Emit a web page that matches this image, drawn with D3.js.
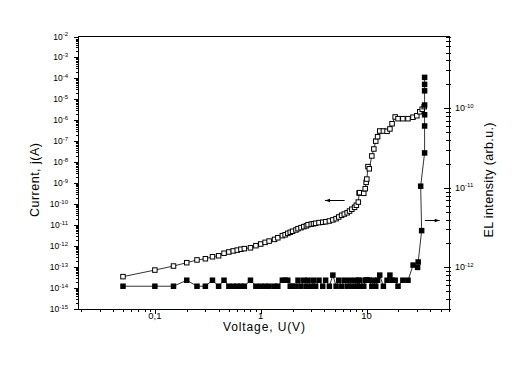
<!DOCTYPE html>
<html><head><meta charset="utf-8">
<script src="https://cdn.jsdelivr.net/npm/d3@7/dist/d3.min.js"></script>
<style>body{margin:0;background:#fff}svg{display:block}text{font-family:"Liberation Sans",Arial,sans-serif;fill:#000}</style>
</head><body><svg id="c" width="525" height="381"></svg>
<script>
// ---- data ----
const openV = [0.05,0.1,0.15,0.2,0.25,0.3,0.35,0.4,0.45,0.5,0.55,0.6,0.65,0.7,0.8,0.9,
  1.0,1.1,1.2,1.35,1.45,1.6,1.7,1.8,1.9,2.0,2.15,2.25,2.4,2.55,2.7,2.8,3.0,3.15,3.3,3.55,3.85,
  4.1,4.45,4.8,5.15,5.45,5.8,6.15,6.55,6.9,7.25,7.7,8.0,8.35,8.5,8.6,9.4,9.7,9.9,10.05,10.3,10.6,
  11.2,11.7,12.2,12.7,13.3,14.4,15.6,16.6,17.4,18.6,19.8,22,24.6,27.4,29.8,31.8,33.5,35];
const openI = [3.5e-14,7.2e-14,1.12e-13,1.62e-13,2.19e-13,2.5e-13,3.1e-13,3.47e-13,4.57e-13,5.25e-13,5.9e-13,6.45e-13,7.1e-13,7.6e-13,8.3e-13,1.05e-12,
  1.26e-12,1.51e-12,1.74e-12,2.09e-12,2.5e-12,3.16e-12,3.47e-12,4.07e-12,4.57e-12,5.13e-12,5.9e-12,6.8e-12,7.6e-12,8.5e-12,9.3e-12,1.05e-11,1.12e-11,1.17e-11,1.23e-11,1.32e-11,1.38e-11,
  1.45e-11,1.58e-11,1.78e-11,2.04e-11,2.45e-11,2.95e-11,3.39e-11,3.9e-11,4.7e-11,5.75e-11,7.1e-11,8.9e-11,1.26e-10,3.4e-10,3.55e-10,3.3e-10,5.5e-10,1.1e-9,1.58e-9,6.2e-9,4.9e-9,
  2.0e-8,4.3e-8,1.02e-7,1.66e-7,3.1e-7,3.1e-7,3.0e-7,3.9e-7,6.9e-7,1.45e-6,1.2e-6,1.2e-6,1.2e-6,1.41e-6,1.66e-6,2.57e-6,3.4e-6,4.5e-6];

const elV = [0.05,0.1,0.15,0.2,0.25,0.3,0.35,0.4,0.45,0.5,0.55,0.6,0.65,0.7,0.8,0.9,
  1.0,1.1,1.2,1.35,1.45,1.6,1.7,1.8,1.9,2.0,2.15,2.25,2.4,2.55,2.7,2.8,3.0,3.15,3.3,3.55,3.85,
  4.1,4.45,4.8,5.15,5.45,5.8,6.15,6.55,6.9,7.25,7.7,8.0,8.35,8.5,8.6,9.4,9.7,9.9,10.05,10.3,10.6,
  11.2,11.7,12.2,12.7,13.3,14.4,15.6,16.6,17.4,18.6,19.8,22,24.6,27.5,
  30.3,30.7,33.1,32.4,35.3,35.3,35.3,35.3,35.3,35.3,35.3];
const elI = [5.8e-13,5.8e-13,5.8e-13,6.9e-13,5.8e-13,5.8e-13,6.9e-13,5.8e-13,6.9e-13,5.8e-13,5.8e-13,5.8e-13,5.8e-13,5.8e-13,6.9e-13,5.8e-13,
  5.8e-13,5.8e-13,5.8e-13,5.8e-13,5.8e-13,6.9e-13,6.9e-13,6.9e-13,5.8e-13,5.8e-13,5.8e-13,6.9e-13,5.8e-13,6.9e-13,5.8e-13,6.9e-13,5.8e-13,6.9e-13,5.8e-13,6.9e-13,5.8e-13,
  6.9e-13,5.8e-13,8.0e-13,5.8e-13,6.9e-13,5.8e-13,6.9e-13,5.8e-13,6.9e-13,5.8e-13,6.9e-13,5.8e-13,6.9e-13,5.8e-13,6.9e-13,5.8e-13,6.9e-13,6.9e-13,6.9e-13,6.9e-13,6.9e-13,
  5.8e-13,6.9e-13,5.8e-13,6.9e-13,8.0e-13,5.8e-13,6.9e-13,8.0e-13,6.9e-13,6.9e-13,5.8e-13,6.9e-13,6.9e-13,1.07e-12,
  1.0e-12,1.17e-12,2.9e-12,1.05e-11,2.75e-11,6.0e-11,8.3e-11,1.1e-10,1.66e-10,2.0e-10,2.45e-10];

const xMajor = [0.1, 1, 10];
const xMajorLabels = ["0,1", "1", "10"];
const leftExp = [-15,-14,-13,-12,-11,-10,-9,-8,-7,-6,-5,-4,-3,-2];
const rightExp = [-12,-11,-10];
const xTitle = "Voltage, U(V)";
const yLeftTitle = "Current, j(A)";
const yRightTitle = "EL intensity (arb.u.)";
// arrows: [fromV, toV, value]
const leftArrow = [6.2, 4.05, 1.58e-10];
const rightArrow = [35.5, 49, 3.9e-12];

// ---- chart ----
const svg = d3.select("#c");
const L = 78.5, R = 449, T = 36.5, B = 309;
const x = d3.scaleLog().domain([0.019, 60]).range([L, R]);
const yL = d3.scaleLog().domain([1e-15, 1e-2]).range([B, T]);
const yR = d3.scaleLog().domain([3e-13, 8e-10]).range([B, T]);

function minors(scale) {
  const [a, b] = scale.domain(); const out = [];
  for (let e = Math.floor(Math.log10(a)); e <= Math.ceil(Math.log10(b)); e++)
    for (let m = 2; m <= 9; m++) { const v = m * Math.pow(10, e); if (v >= a * 0.999 && v <= b * 1.001) out.push(v); }
  return out;
}
function styleAxis(g) { g.select(".domain").remove(); g.selectAll("line").attr("stroke", "#000").attr("shape-rendering", "crispEdges"); g.selectAll("text").remove(); }

// bottom
svg.append("g").attr("transform", `translate(0,${B})`).call(d3.axisBottom(x).tickValues(minors(x)).tickSize(3).tickFormat("")).call(styleAxis);
svg.append("g").attr("transform", `translate(0,${B})`).call(d3.axisBottom(x).tickValues(xMajor).tickSize(5).tickFormat("")).call(styleAxis);
// left
svg.append("g").attr("transform", `translate(${L},0)`).call(d3.axisLeft(yL).tickValues(minors(yL)).tickSize(2.5).tickFormat("")).call(styleAxis);
svg.append("g").attr("transform", `translate(${L},0)`).call(d3.axisLeft(yL).tickValues(leftExp.map(e => Math.pow(10, e))).tickSize(4.5).tickFormat("")).call(styleAxis);
// right (ticks crossing the axis)
svg.append("g").attr("transform", `translate(${R+2},0)`).call(d3.axisLeft(yR).tickValues(minors(yR)).tickSize(5).tickFormat("")).call(styleAxis);
svg.append("g").attr("transform", `translate(${R+2},0)`).call(d3.axisLeft(yR).tickValues(rightExp.map(e => Math.pow(10, e))).tickSize(7).tickFormat("")).call(styleAxis);

// frame
svg.append("path").attr("d", `M${L},${T}H${R}V${B}H${L}Z`).attr("fill", "none").attr("stroke", "#000").attr("stroke-width", 1).attr("shape-rendering", "crispEdges");
svg.append("line").attr("x1", L - 0.5).attr("x2", L - 0.5).attr("y1", T).attr("y2", B).attr("stroke", "#000").attr("shape-rendering", "crispEdges");

// tick labels
const xl = svg.append("g").attr("font-size", 9.5);
xMajor.forEach((v, i) => xl.append("text").attr("x", x(v)).attr("y", B + 9.5).attr("text-anchor", "middle").text(xMajorLabels[i]));
const ll = svg.append("g").attr("font-size", 8.5);
leftExp.forEach(e => {
  const t = ll.append("text").attr("x", 68).attr("y", yL(Math.pow(10, e)) + 3).attr("text-anchor", "end");
  t.append("tspan").text("10");
  t.append("tspan").attr("dy", -3.5).attr("font-size", 6).text("-" + (-e));
});
const rl = svg.append("g").attr("font-size", 9);
rightExp.forEach(e => {
  const t = rl.append("text").attr("x", 455).attr("y", yR(Math.pow(10, e)) + 3).attr("text-anchor", "start");
  t.append("tspan").text("10");
  t.append("tspan").attr("dy", -3.5).attr("font-size", 6).text("-" + (-e));
});

// titles
svg.append("text").attr("x", 264).attr("y", 331).attr("text-anchor", "middle").attr("font-size", 12)
  .attr("textLength", 82).attr("lengthAdjust", "spacing").text(xTitle);
svg.append("text").attr("transform", "translate(39,180) rotate(-90)").attr("text-anchor", "middle").attr("font-size", 12.5)
  .attr("textLength", 74).attr("lengthAdjust", "spacing").text(yLeftTitle);
svg.append("text").attr("transform", "translate(493,180) rotate(-90)").attr("text-anchor", "middle").attr("font-size", 12.5)
  .attr("textLength", 115).attr("lengthAdjust", "spacing").text(yRightTitle);

// data: open squares (current, left axis)
const openData = openV.map((v, i) => [v, openI[i]]);
const elData = elV.map((v, i) => [v, elI[i]]);
svg.append("path").datum(openData).attr("fill", "none").attr("stroke", "#000").attr("stroke-width", 0.8)
  .attr("d", d3.line().x(d => x(d[0])).y(d => yL(d[1])));
svg.append("g").selectAll("rect").data(openData).join("rect")
  .attr("x", d => x(d[0]) - 2.25).attr("y", d => yL(d[1]) - 2.25).attr("width", 4.5).attr("height", 4.5)
  .attr("fill", "#fff").attr("stroke", "#000").attr("stroke-width", 1);
// filled squares (EL, right axis)
svg.append("path").datum(elData).attr("fill", "none").attr("stroke", "#000").attr("stroke-width", 0.8)
  .attr("d", d3.line().x(d => x(d[0])).y(d => yR(d[1])));
svg.append("g").selectAll("rect").data(elData).join("rect")
  .attr("x", d => x(d[0]) - 2.75).attr("y", d => yR(d[1]) - 2.75).attr("width", 5.5).attr("height", 5.5)
  .attr("fill", "#000");

// arrows
function arrow(x1, x2, y) {
  svg.append("line").attr("x1", x1).attr("x2", x2).attr("y1", y).attr("y2", y).attr("stroke", "#000").attr("stroke-width", 1);
  const dir = Math.sign(x2 - x1);
  svg.append("path").attr("d", `M${x2},${y}L${x2 - dir * 5},${y - 1.8}L${x2 - dir * 5},${y + 1.8}Z`).attr("fill", "#000");
}
arrow(x(leftArrow[0]), x(leftArrow[1]), Math.round(yL(leftArrow[2])) + 0.5);
arrow(x(rightArrow[0]), x(rightArrow[1]), Math.round(yR(rightArrow[2])) + 0.5);
</script></body></html>
